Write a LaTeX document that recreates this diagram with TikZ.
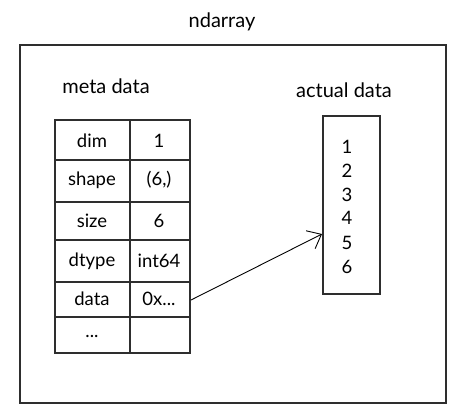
\documentclass[tikz,border=0pt]{standalone}
\usepackage{fontspec}
\setmainfont{Lato}
\usetikzlibrary{arrows.meta}
\definecolor{ink}{HTML}{2E2E2E}
\tikzset{
  box/.style={draw=ink, line width=1.6pt},
  lbl/.style={font=\fontsize{20}{22}\selectfont, text=black, inner sep=0pt},
  cell/.style={font=\fontsize{18.5}{20}\selectfont, text=black, inner sep=0pt},
  link/.style={draw=black, line width=0.9pt, -{Straight Barb[length=12pt,width=20pt,line width=0.9pt]}}
}
\begin{document}
\begin{tikzpicture}[x=1pt,y=-1pt]
\useasboundingbox (0,0) rectangle (465,416);
% outer box
\node[box, minimum width=426pt, minimum height=358pt, anchor=north west, inner sep=0pt] (outer) at (19,44) {};
\node[lbl] (title) at (222,22) {ndarray};
\node[lbl] (meta) at (106,86) {meta data};
\node[lbl] (actual) at (344,90) {actual data};
% table
\draw[box] (55,120) rectangle (190,353);
\draw[box] (130,120) -- (130,353);
\foreach \y in {160,202,240,282,317} \draw[box] (55,\y) -- (190,\y);
\node[cell] (k1) at (92,141) {dim};
\node[cell] (v1) at (159,141) {1};
\node[cell] (k2) at (92,180) {shape};
\node[cell] (v2) at (159,180) {(6,)};
\node[cell] (k3) at (92,221) {size};
\node[cell] (v3) at (159,221) {6};
\node[cell] (k4) at (92,261) {dtype};
\node[cell] (v4) at (159,261) {int64};
\node[cell] (k5) at (92,299) {data};
\node[cell] (v5) at (159,299) {0x...};
\node[cell] (k6) at (92,336) {...};
\coordinate (vdata) at (191,300);
% actual data box
\node[box, minimum width=57pt, minimum height=178pt, anchor=north west, inner sep=0pt] (arr) at (322,115) {};
\foreach \n/\y in {1/147,2/171,3/195,4/218,5/243,6/267}
  \node[cell] (d\n) at (347,\y) {\n};
\coordinate (tip) at (322,234);
\draw[link] (vdata) -- (tip);
\end{tikzpicture}
\end{document}
